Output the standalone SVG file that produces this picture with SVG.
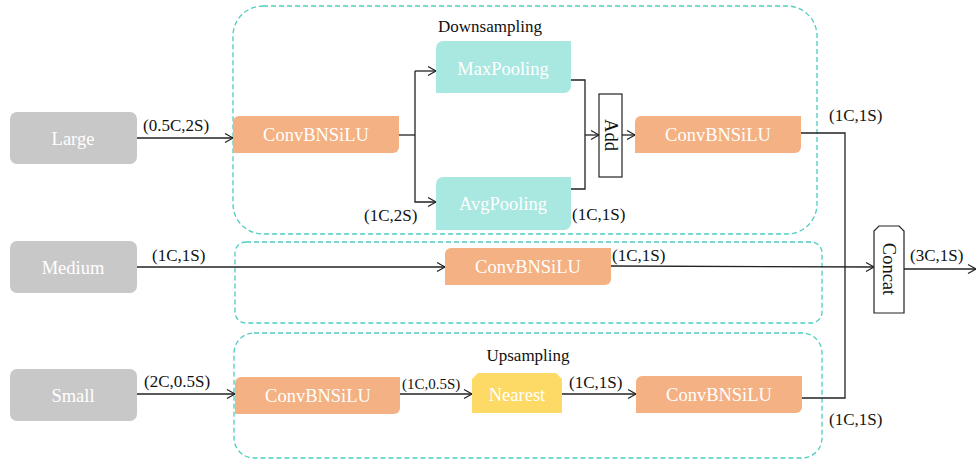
<svg xmlns="http://www.w3.org/2000/svg" width="976" height="462" viewBox="0 0 976 462">
<defs>
<marker id="arr" markerWidth="12" markerHeight="12" refX="10" refY="6" orient="auto" markerUnits="userSpaceOnUse">
<path d="M2,1.5 L10,6 L2,10.5" fill="none" stroke="#222" stroke-width="1.2"/>
</marker>
<style>
.grp{fill:none;stroke:#4ecdc0;stroke-width:1.3;stroke-dasharray:5,3}
.in{fill:#c8c8c8}
.conv{fill:#f4b183}
.pool{fill:#a9e7e1}
.near{fill:#fdd966}
.nt{font-family:"Liberation Serif",serif;font-size:18.5px;fill:#fff;text-anchor:middle;dominant-baseline:central}
.lb{font-family:"Liberation Serif",serif;font-size:17px;fill:#111}
.bt{font-family:"Liberation Serif",serif;font-size:18.5px;fill:#111;text-anchor:middle;dominant-baseline:central}
.ln{fill:none;stroke:#222;stroke-width:1.3}
.box{fill:#fff;stroke:#222;stroke-width:1.2}
</style>
</defs>
<rect width="976" height="462" fill="#fff"/>
<g id="groups">
<rect class="grp" x="233" y="6" width="584" height="228" rx="30"/>
<rect class="grp" x="235" y="242" width="587" height="81" rx="11"/>
<rect class="grp" x="234" y="333" width="588" height="125" rx="20"/>
<text class="lb" x="490" y="32" text-anchor="middle">Downsampling</text>
<text class="lb" x="528" y="361" text-anchor="middle">Upsampling</text>
</g>
<g id="connectors">
<line class="ln" x1="137" y1="138" x2="233" y2="138" marker-end="url(#arr)"/>
<polyline class="ln" points="399,135 415,135"/>
<polyline class="ln" points="415,71 415,202 436,202" marker-end="url(#arr)"/>
<line class="ln" x1="415" y1="71" x2="436" y2="71" marker-end="url(#arr)"/>
<polyline class="ln" points="571,80 585,80 585,189 571,189"/>
<line class="ln" x1="585" y1="135" x2="599" y2="135" marker-end="url(#arr)"/>
<line class="ln" x1="622" y1="135" x2="635" y2="135" marker-end="url(#arr)"/>
<polyline class="ln" points="801,133 845,133 845,398 802,398"/>
<line class="ln" x1="137" y1="267" x2="445" y2="267" marker-end="url(#arr)"/>
<line class="ln" x1="611" y1="266" x2="874" y2="267" marker-end="url(#arr)"/>
<line class="ln" x1="904" y1="269" x2="976" y2="269" marker-end="url(#arr)"/>
<line class="ln" x1="137" y1="394" x2="235" y2="394" marker-end="url(#arr)"/>
<line class="ln" x1="400" y1="394" x2="472" y2="394" marker-end="url(#arr)"/>
<line class="ln" x1="562" y1="394" x2="636" y2="394" marker-end="url(#arr)"/>
<text class="lb" x="143" y="131">(0.5C,2S)</text>
<text class="lb" x="364" y="221">(1C,2S)</text>
<text class="lb" x="572" y="220">(1C,1S)</text>
<text class="lb" x="829" y="121">(1C,1S)</text>
<text class="lb" x="152" y="261">(1C,1S)</text>
<text class="lb" x="612" y="261">(1C,1S)</text>
<text class="lb" x="910" y="261">(3C,1S)</text>
<text class="lb" x="144" y="387">(2C,0.5S)</text>
<text class="lb" x="402" y="389" style="font-size:15px">(1C,0.5S)</text>
<text class="lb" x="569" y="388">(1C,1S)</text>
<text class="lb" x="829" y="425">(1C,1S)</text>
</g>
<g id="large"><rect class="in" x="10" y="112" width="127" height="52" rx="7"/><text class="nt" x="73" y="139">Large</text></g>
<g id="medium"><rect class="in" x="10" y="241" width="127" height="52" rx="7"/><text class="nt" x="73" y="268">Medium</text></g>
<g id="small"><rect class="in" x="10" y="369" width="127" height="52" rx="7"/><text class="nt" x="73" y="396">Small</text></g>
<g id="conv1"><path class="conv" d="M239,116 H399 V147 a6,6 0 0 1 -6,6 H233 V122 a6,6 0 0 1 6,-6 Z"/><text class="nt" x="316" y="135">ConvBNSiLU</text></g>
<g id="maxpool"><path class="pool" d="M443,41 H571 V86 a7,7 0 0 1 -7,7 H436 V48 a7,7 0 0 1 7,-7 Z"/><text class="nt" x="503" y="69">MaxPooling</text></g>
<g id="avgpool"><path class="pool" d="M443,177 H571 V223 a7,7 0 0 1 -7,7 H436 V184 a7,7 0 0 1 7,-7 Z"/><text class="nt" x="503" y="204">AvgPooling</text></g>
<g id="add"><rect class="box" x="599" y="94" width="23" height="83"/><text class="bt" transform="translate(611,135) rotate(90)">Add</text></g>
<g id="conv2"><path class="conv" d="M641,116 H801 V147 a6,6 0 0 1 -6,6 H635 V122 a6,6 0 0 1 6,-6 Z"/><text class="nt" x="718" y="135">ConvBNSiLU</text></g>
<g id="conv3"><path class="conv" d="M451,248 H611 V279 a6,6 0 0 1 -6,6 H445 V254 a6,6 0 0 1 6,-6 Z"/><text class="nt" x="528" y="267">ConvBNSiLU</text></g>
<g id="conv4"><path class="conv" d="M241,377 H400 V408 a6,6 0 0 1 -6,6 H235 V383 a6,6 0 0 1 6,-6 Z"/><text class="nt" x="318" y="396">ConvBNSiLU</text></g>
<g id="nearest"><path class="near" d="M478,373 H556 L562,379 V413 H472 V379 Z"/><text class="nt" x="517" y="395">Nearest</text></g>
<g id="conv5"><path class="conv" d="M642,376 H802 V407 a6,6 0 0 1 -6,6 H636 V382 a6,6 0 0 1 6,-6 Z"/><text class="nt" x="719" y="395">ConvBNSiLU</text></g>
<g id="concat"><path class="box" d="M879,226 H899 L904,231 V313 H874 V231 Z"/><text class="bt" transform="translate(889,269) rotate(90)">Concat</text></g>
</svg>
